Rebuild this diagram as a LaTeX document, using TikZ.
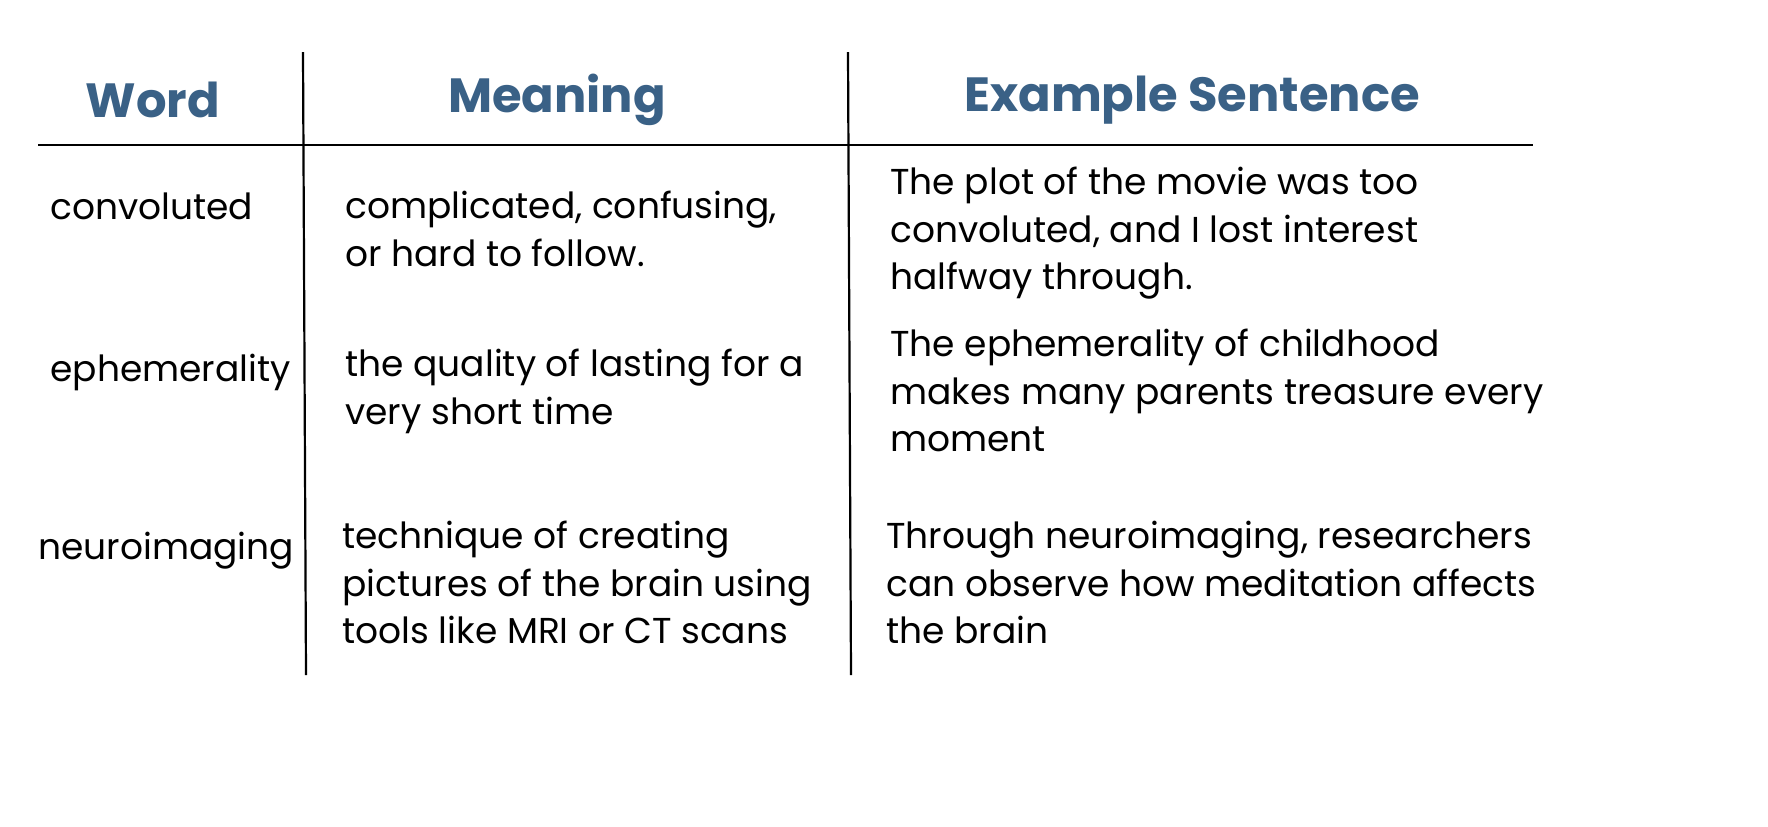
\documentclass[tikz,border=0pt]{standalone}
\usepackage{fontspec}
\setmainfont{Poppins}
\definecolor{headblue}{HTML}{3A6186}
\tikzset{
  head/.style = {font=\fontsize{24}{28}\selectfont\bfseries, text=headblue},
  cell/.style = {anchor=north west, align=left, inner sep=0pt,
                 font=\fontsize{18}{23.75}\selectfont},
  rule/.style = {line width=1.1pt}
}
\begin{document}
\begin{tikzpicture}[x=0.5pt, y=-0.5pt]
  \useasboundingbox (0,0) rectangle (1768,826);
  % grid
  \coordinate (h1) at (38,145);
  \coordinate (h2) at (1533,145);
  \coordinate (v1t) at (303,52);
  \coordinate (v1b) at (306,675);
  \coordinate (v2t) at (848,52);
  \coordinate (v2b) at (851,675);
  \draw[rule] (h1) -- (h2);
  \draw[rule] (v1t) -- (v1b);
  \draw[rule] (v2t) -- (v2b);
  % header
  \node[head] (word)    at (153,100) {Word};
  \node[head] (meaning) at (557,100) {Meaning};
  \node[head] (example) at (1192,100) {Example Sentence};
  % row 1
  \node[cell] (w1) at (50,192) {convoluted};
  \node[cell] (m1) at (345,191) {complicated, confusing,\\or hard to follow.};
  \node[cell] (e1) at (890,167) {The plot of the movie was too\\convoluted, and I lost interest\\halfway through.};
  % row 2
  \node[cell] (w2) at (50,354) {ephemerality};
  \node[cell] (m2) at (345,349) {the quality of lasting for a\\very short time};
  \node[cell] (e2) at (890,329) {The ephemerality of childhood\\makes many parents treasure every\\moment};
  % row 3
  \node[cell] (w3) at (38,532) {neuroimaging};
  \node[cell] (m3) at (342,521) {technique of creating\\pictures of the brain using\\tools like MRI or CT scans};
  \node[cell] (e3) at (886,521) {Through neuroimaging, researchers\\can observe how meditation affects\\the brain};
\end{tikzpicture}
\end{document}
